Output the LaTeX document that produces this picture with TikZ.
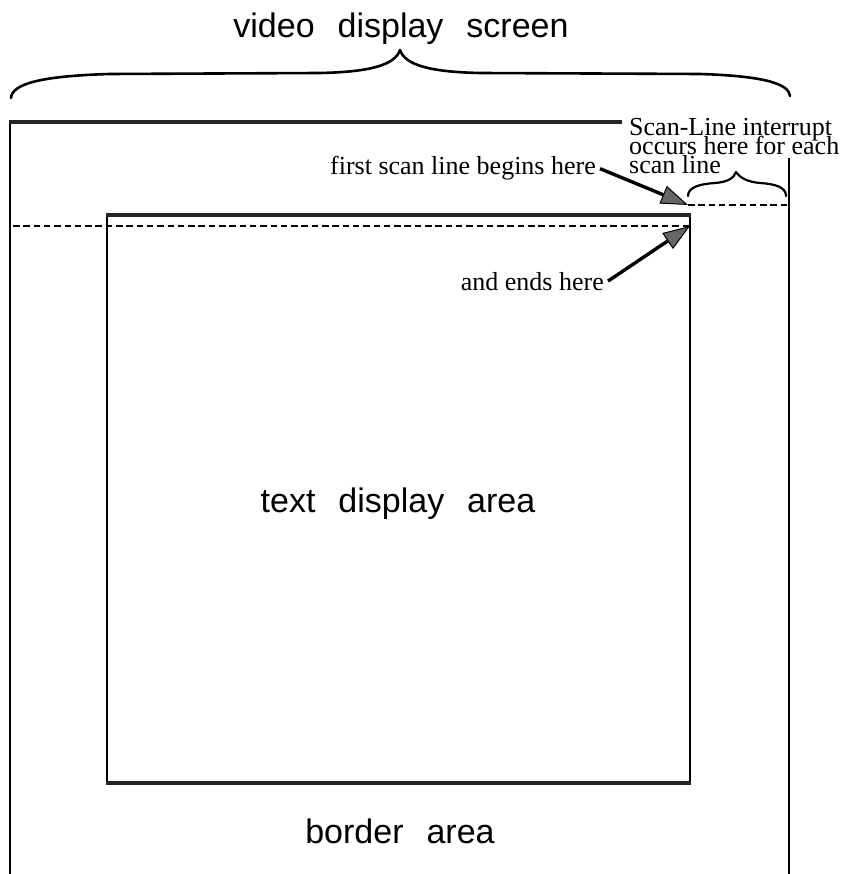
\documentclass[tikz,border=0pt]{standalone}
\usepackage{fontspec}
\setmainfont{Liberation Serif}
\newfontfamily\labelsans{Liberation Sans}
\usetikzlibrary{arrows.meta}
\newcommand\wordgap{\hspace{23pt}}
\begin{document}
\begin{tikzpicture}[x=1pt,y=-1pt,
  bigtext/.style={font=\labelsans\fontsize{34}{38}\selectfont, inner sep=0pt, anchor=base},
  note/.style={font=\fontsize{26}{19}\selectfont, inner sep=0pt},
  frameline/.style={line width=2.4pt, black},
  heavyline/.style={line width=3.8pt, black!85},
  scanline/.style={line width=2.6pt, dash pattern=on 6.5pt off 3.8pt},
  curly/.style={line width=2.2pt, line cap=round, line join=round},
  pointer/.style={line width=3.4pt, -{Triangle[length=27pt,width=19pt,line width=1pt,fill=black!60]}}
]
\useasboundingbox (0,0) rectangle (842,874);

% heading and its brace spanning the whole screen
\node[bigtext] (title) at (401,38) {video\wordgap display\wordgap screen};
\draw[curly, line width=2.6pt] (11,98) .. controls (12,84) and (40,76) .. (110,74) -- (320,73)
  .. controls (370,72) and (395,65) .. (400,50)
  .. controls (405,65) and (430,72) .. (480,73) -- (700,74)
  .. controls (765,76) and (789,84) .. (790,96);

% outer screen frame (open at the bottom)
\draw[frameline] (10,874) -- (10,122);
\draw[heavyline] (9,122) -- (622,122);
\draw[line width=2pt] (789,158) -- (789,874);

% inner text display area
\draw[line width=2pt] (107,215) -- (107,783);
\draw[line width=2pt] (690,215) -- (690,783);
\draw[heavyline] (106,215) -- (691,215);
\draw[heavyline] (106,783) -- (691,783);

% scan lines
\coordinate (scanAstart) at (688,205);
\coordinate (scanAend) at (787,205);
\coordinate (scanBstart) at (13,226);
\coordinate (scanBend) at (690,226);
\draw[scanline] (scanAstart) -- (scanAend);
\draw[scanline] (scanBstart) -- (scanBend);

% small brace over the interrupt interval
\draw[curly] (688,196) .. controls (688,187) and (700,184) .. (715,183)
  .. controls (728,182) and (734,178) .. (736,172)
  .. controls (740,178) and (748,182) .. (760,183)
  .. controls (775,184) and (786,187) .. (786,196);

% labels
\node[bigtext] (textarea) at (398,512) {text\wordgap display\wordgap area};
\node[bigtext] (borderarea) at (400,843) {border\wordgap area};

\node[note, anchor=base east] (first) at (596,175) {first scan line begins here};
\node[note, anchor=base east] (ends) at (604,290) {and ends here};
\node[note, anchor=base west] (lblA) at (629,136) {Scan-Line interrupt};
\node[note, anchor=base west] (lblB) at (629,155) {occurs here for each};
\node[note, anchor=base west] (lblC) at (629,174) {scan line};

% pointers
\draw[pointer] ([xshift=4pt]first.east) -- (scanAstart);
\draw[pointer] ([xshift=4pt]ends.east) -- (scanBend);
\end{tikzpicture}
\end{document}
